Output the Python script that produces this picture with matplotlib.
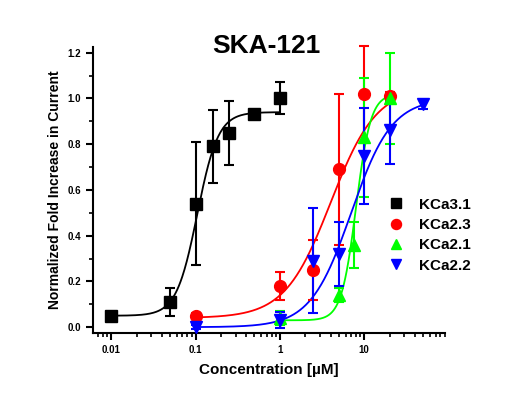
import numpy as np
import matplotlib

matplotlib.use("Agg")
import matplotlib.pyplot as plt
from matplotlib.ticker import LogLocator, MultipleLocator, FixedLocator, FixedFormatter, NullFormatter

plt.rcParams["font.family"] = ["Liberation Sans", "DejaVu Sans"]
plt.rcParams["font.weight"] = "bold"

# data
kca31_x = [0.01, 0.05, 0.1, 0.16, 0.25, 0.5, 1.0]
kca31_y = [0.05, 0.11, 0.54, 0.79, 0.85, 0.93, 1.00]
kca31_e = [0.01, 0.06, 0.27, 0.16, 0.14, 0.01, 0.07]

kca23_x = [0.1, 1.0, 2.5, 5.0, 10.0, 20.0]
kca23_y = [0.05, 0.18, 0.25, 0.69, 1.02, 1.01]
kca23_e = [0.01, 0.06, 0.13, 0.33, 0.21, 0.02]

kca21_x = [1.0, 5.0, 7.5, 10.0, 20.0]
kca21_y = [0.04, 0.14, 0.36, 0.83, 1.00]
kca21_e = [0.03, 0.03, 0.10, 0.26, 0.20]

kca22_x = [0.1, 1.0, 2.5, 5.0, 10.0, 20.0, 50.0]
kca22_y = [0.00, 0.03, 0.29, 0.32, 0.75, 0.86, 0.975]
kca22_e = [0.01, 0.035, 0.23, 0.14, 0.21, 0.145, 0.02]

# Hill fit parameters (bottom, top, EC50, slope) and fit ranges
fits = {
    "KCa3.1": (0.05, 0.94, 0.105, 3.5, 0.01, 1.0),
    "KCa2.3": (0.04, 1.05, 4.0, 1.6, 0.1, 20.0),
    "KCa2.1": (0.03, 1.02, 8.0, 5.0, 1.0, 20.0),
    "KCa2.2": (0.0, 1.0, 7.0, 1.8, 0.1, 50.0),
}

series = [
    ("KCa3.1", kca31_x, kca31_y, kca31_e, "black", "s"),
    ("KCa2.3", kca23_x, kca23_y, kca23_e, "#ff0000", "o"),
    ("KCa2.1", kca21_x, kca21_y, kca21_e, "#00ff00", "^"),
    ("KCa2.2", kca22_x, kca22_y, kca22_e, "#0000ff", "v"),
]


def hill(x, bottom, top, ec50, n):
    return bottom + (top - bottom) / (1 + (ec50 / x) ** n)


fig = plt.figure(figsize=(5.17, 3.98), dpi=100)
ax = fig.add_axes([0.18, 0.163, 0.681, 0.719])

handles = []
for name, xs, ys, es, color, marker in series:
    b, t, ec, n, lo, hi = fits[name]
    xx = np.logspace(np.log10(lo), np.log10(hi), 300)
    ax.plot(xx, hill(xx, b, t, ec, n), color=color, lw=1.3, zorder=2)
    eb = ax.errorbar(xs, ys, yerr=es, fmt="none", ecolor=color, elinewidth=1.5,
                     capsize=3.5, capthick=1.5, zorder=3)
    for art in eb.lines[1] + eb.lines[2]:
        art.set_clip_on(False)
    h, = ax.plot(xs, ys, linestyle="none", marker=marker, color=color,
                 markersize=8.5, label=name, zorder=4)
    handles.append(h)

ax.set_xscale("log")
ax.set_xlim(0.0061, 91)
ax.set_ylim(-0.026, 1.225)

ax.xaxis.set_major_locator(FixedLocator([0.01, 0.1, 1, 10]))
ax.xaxis.set_major_formatter(FixedFormatter(["0.01", "0.1", "1", "10"]))
ax.xaxis.set_minor_locator(LogLocator(base=10, subs=np.arange(2, 10), numticks=20))
ax.xaxis.set_minor_formatter(NullFormatter())
ax.yaxis.set_major_locator(MultipleLocator(0.2))
ax.yaxis.set_minor_locator(MultipleLocator(0.1))
ax.yaxis.set_major_formatter(matplotlib.ticker.FormatStrFormatter("%.1f"))

for side in ("top", "right"):
    ax.spines[side].set_visible(False)
for side in ("left", "bottom"):
    ax.spines[side].set_linewidth(1.5)

ax.tick_params(which="major", direction="out", length=5, width=1.5, labelsize=7)
ax.tick_params(which="minor", direction="out", length=3, width=1.2)
for lab in ax.get_xticklabels() + ax.get_yticklabels():
    lab.set_fontweight("bold")

ax.set_xlabel("Concentration [\u00b5M]", fontsize=11, fontweight="bold", labelpad=6)
ax.set_ylabel("Normalized Fold Increase in Current", fontsize=10, fontweight="bold", labelpad=4)
fig.text(0.515, 0.885, "SKA-121", ha="center", va="center", fontsize=19, fontweight="bold")

ax.legend(handles=handles, loc="upper left", bbox_to_anchor=(0.8, 0.495),
          frameon=False, prop={"size": 11, "weight": "bold"},
          handletextpad=0.5, labelspacing=0.42, markerscale=0.85,
          borderaxespad=0)

fig.savefig("out.png", dpi=100)
